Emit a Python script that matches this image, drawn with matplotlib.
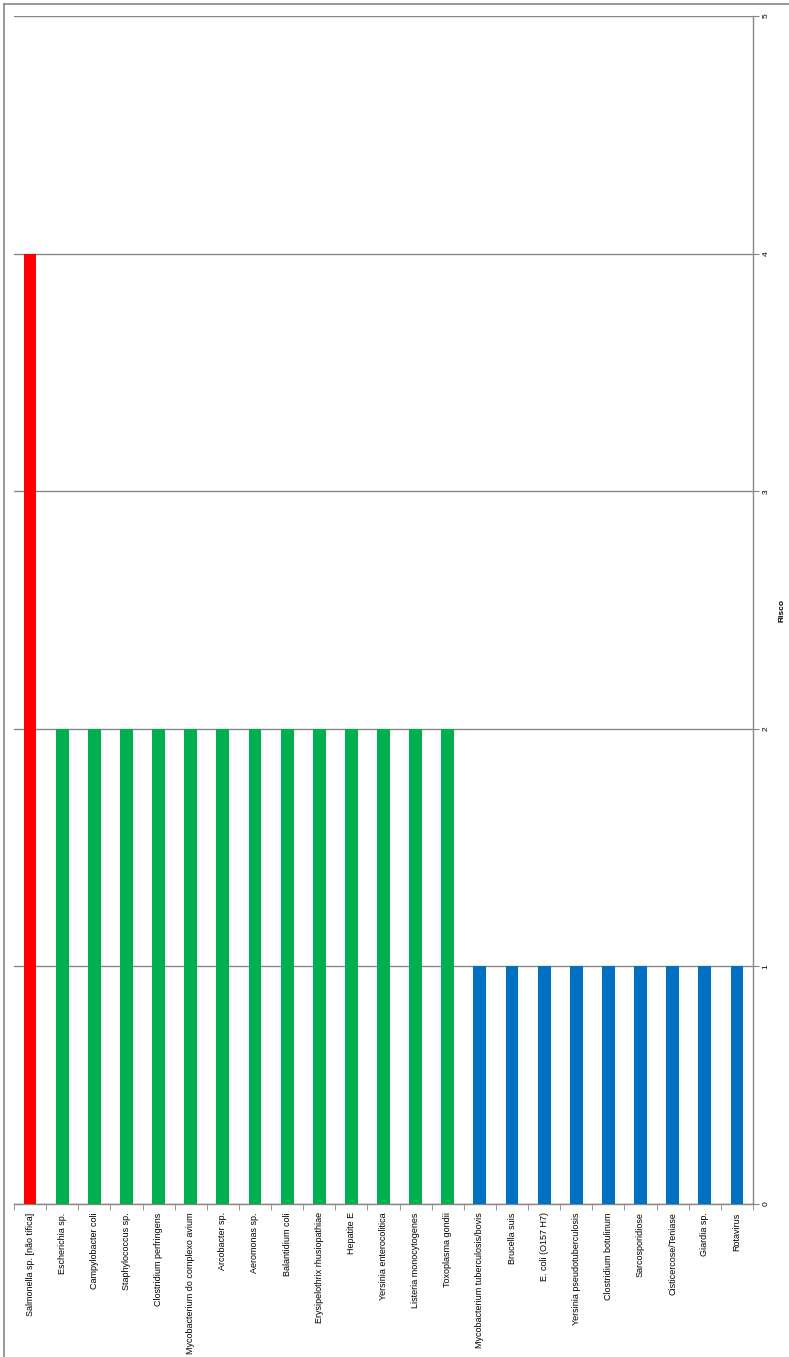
import matplotlib.pyplot as plt
import numpy as np
from matplotlib.lines import Line2D

plt.rcParams['font.family'] = ['Liberation Sans', 'DejaVu Sans']

categorias = ["Salmonella sp. [não tífica]", "Escherichia sp.", "Campylobacter coli",
              "Staphylococcus sp.", "Clostridium perfringens",
              "Mycobacterium do complexo avium", "Arcobacter sp.", "Aeromonas sp.",
              "Balantidium coli", "Erysipelothrix rhusiopathiae", "Hepatite E",
              "Yersinia enterocolitica", "Listeria monocytogenes", "Toxoplasma gondii",
              "Mycobacterium tuberculosis/bovis", "Brucella suis", "E. coli (O157 H7)",
              "Yersinia pseudotuberculosis", "Clostridium botulinum", "Sarcosporidiose",
              "Cisticercose/Teniase", "Giardia sp.", "Rotavirus"]
risco = [4, 2, 2, 2, 2, 2, 2, 2, 2, 2, 2, 2, 2, 2, 1, 1, 1, 1, 1, 1, 1, 1, 1]
grupo = [0] + [1] * 13 + [2] * 9
cores_grupo = ['#FF0000', '#00B050', '#0070C0']
y_ticks = [0, 1, 2, 3, 4, 5]

W, H = 789, 1357
fig = plt.figure(figsize=(W / 100, H / 100), dpi=100)
ax = fig.add_axes([14 / W, 1 - 1204 / H, 739 / W, 1188 / H])

x = np.arange(len(categorias))
cores = [cores_grupo[g] for g in grupo]
ax.bar(x, risco, width=0.4, color=cores, zorder=3)

ax.set_xlim(-0.5, len(categorias) - 0.5)
ax.set_ylim(0, 5)

# value axis on the right
ax.yaxis.tick_right()
ax.yaxis.set_label_position('right')
ax.set_yticks(y_ticks)
ax.set_yticklabels([str(v) for v in y_ticks], rotation=90, fontsize=6, va='center')
ax.tick_params(axis='y', length=4, color='#868686', pad=3)
ax.yaxis.grid(True, color='#868686', lw=1, zorder=0)
ax.set_ylabel('Risco', rotation=90, fontsize=6, fontweight='bold')
ax.yaxis.set_label_coords((779 - 14) / 739, 0.5)

# category axis
ax.set_xticks(x)
ax.set_xticklabels(categorias, rotation=90, fontsize=6.5, va='top', ha='center')
ax.tick_params(axis='x', which='major', length=0, pad=6)
ax.set_xticks(np.arange(len(categorias) + 1) - 0.5, minor=True)
ax.tick_params(axis='x', which='minor', length=4, color='#868686', direction='out')

for s in ['left', 'top']:
    ax.spines[s].set_visible(False)
for s in ['right', 'bottom']:
    ax.spines[s].set_color('#868686')
    ax.spines[s].set_linewidth(1)

# outer chart frame
fig.add_artist(Line2D([4 / W, 4 / W], [0, 1 - 4 / H], color='#868686', lw=1.2))
fig.add_artist(Line2D([4 / W, 1], [1 - 4 / H, 1 - 4 / H], color='#868686', lw=1.2))

fig.savefig('out.png', dpi=100)
